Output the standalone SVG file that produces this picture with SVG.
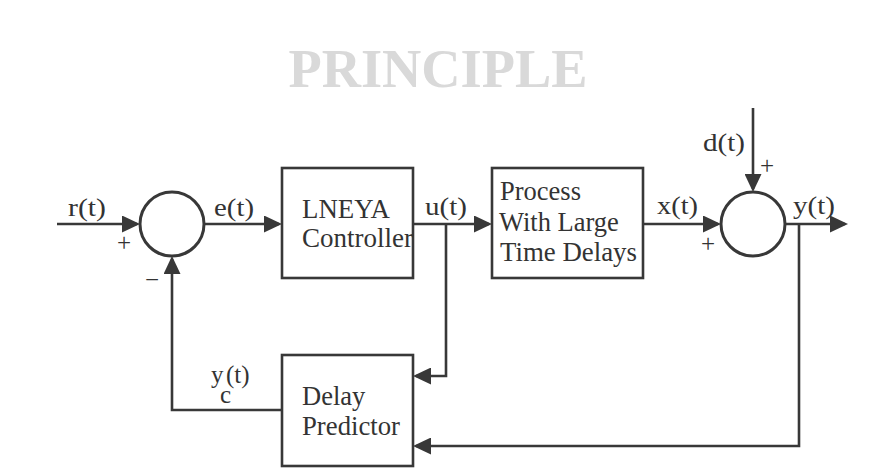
<svg xmlns="http://www.w3.org/2000/svg" width="880" height="475" viewBox="0 0 880 475">
<style>
.ln{fill:none;stroke:#383838;stroke-width:2.6;marker-end:url(#ah)}
.bx{fill:#fff;stroke:#383838;stroke-width:2.6}
.sj{fill:#fff;stroke:#383838;stroke-width:3}
.lb{font-family:"Liberation Serif","Times New Roman",serif;font-size:25px;fill:#333}
.bt{font-family:"Liberation Serif","Times New Roman",serif;font-size:26.5px;fill:#333}
.sg{font-family:"Liberation Serif","Times New Roman",serif;font-size:25px;fill:#333;text-anchor:middle}
.tt{font-family:"Liberation Serif","Times New Roman",serif;font-size:54px;font-weight:bold;fill:#d9d9d9;text-anchor:middle}
</style>
<defs>
<marker id="ah" markerUnits="userSpaceOnUse" markerWidth="18" markerHeight="17" refX="15" refY="8.5" orient="auto">
<path d="M0,0 L18,8.5 L0,17 z" fill="#383838"/>
</marker>
</defs>
<text class="tt" x="438" y="87" textLength="299" lengthAdjust="spacingAndGlyphs">PRINCIPLE</text>
<g id="connectors">
<path class="ln" d="M57,224 H137"/>
<path class="ln" d="M204,224 H279"/>
<path class="ln" d="M413,224 H489"/>
<path class="ln" d="M446,224 V376 H416"/>
<path class="ln" d="M643,224 H718"/>
<path class="ln" d="M753,108 V189"/>
<path class="ln" d="M785,224 H845"/>
<path class="ln" d="M799,224 V446 H416"/>
<path class="ln" d="M282,410 H172 V259"/>
</g>
<g id="sum1"><circle class="sj" cx="172" cy="224" r="32"/></g>
<g id="sum2"><circle class="sj" cx="753" cy="224" r="32"/></g>
<g id="controller">
<rect class="bx" x="282" y="168" width="131" height="110"/>
<text class="bt" x="302" y="218" textLength="88" lengthAdjust="spacingAndGlyphs">LNEYA</text>
<text class="bt" x="302" y="247" textLength="111" lengthAdjust="spacingAndGlyphs">Controller</text>
</g>
<g id="process">
<rect class="bx" x="492" y="168" width="151" height="110"/>
<text class="bt" x="500" y="200">Process</text>
<text class="bt" x="499" y="231">With Large</text>
<text class="bt" x="500" y="261" textLength="137" lengthAdjust="spacingAndGlyphs">Time Delays</text>
</g>
<g id="predictor">
<rect class="bx" x="282" y="355" width="131" height="111"/>
<text class="bt" x="302" y="405">Delay</text>
<text class="bt" x="302" y="435" textLength="98" lengthAdjust="spacingAndGlyphs">Predictor</text>
</g>
<g id="labels">
<text class="lb" x="68" y="216" textLength="38" lengthAdjust="spacingAndGlyphs">r(t)</text>
<text class="lb" x="214" y="216" textLength="40" lengthAdjust="spacingAndGlyphs">e(t)</text>
<text class="lb" x="425" y="215" textLength="42" lengthAdjust="spacingAndGlyphs">u(t)</text>
<text class="lb" x="657" y="214" textLength="41" lengthAdjust="spacingAndGlyphs">x(t)</text>
<text class="lb" x="703" y="151" textLength="42" lengthAdjust="spacingAndGlyphs">d(t)</text>
<text class="lb" x="793" y="214" textLength="42" lengthAdjust="spacingAndGlyphs">y(t)</text>
<text class="lb" x="211" y="383">y<tspan x="220" y="403">c</tspan><tspan x="226" y="383">(t)</tspan></text>
<text class="sg" x="124" y="251">+</text>
<text class="sg" x="152" y="288">−</text>
<text class="sg" x="708" y="252">+</text>
<text class="sg" x="767" y="174">+</text>
</g>
</svg>
